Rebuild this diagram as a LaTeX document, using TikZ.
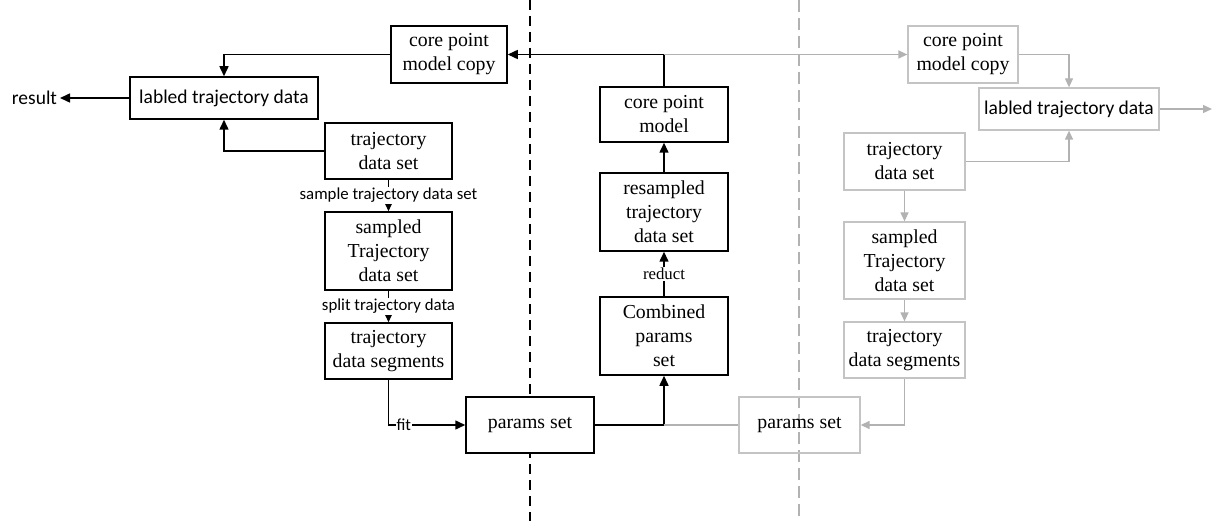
\documentclass[tikz,border=0pt]{standalone}
\usepackage{fontspec}
\setmainfont{Liberation Serif}
\newfontfamily\calfont{Carlito}
\usetikzlibrary{arrows.meta}
\definecolor{lgray}{HTML}{B2B2B2}
\definecolor{bgray}{HTML}{C4C4C4}

\begin{document}
\begin{tikzpicture}[x=1pt, y=-1pt,
        box/.style = {draw, line width=1.5pt, fill=white, align=center, inner sep=0pt,
                      font=\fontsize{19.8}{24}\selectfont},
        gbox/.style = {draw=bgray, line width=1.3pt, align=center, inner sep=0pt,
                       font=\fontsize{19.8}{24}\selectfont},
        arr/.style = {line width=1.5pt, -{Triangle[length=10pt,width=9pt]}},
        garr/.style = {draw=lgray, line width=1.3pt, -{Triangle[length=9pt,width=8pt,fill=lgray]}},
        lab/.style = {fill=white, inner sep=1pt, font=\calfont\fontsize{16.8}{19}\selectfont}]
        \useasboundingbox (0,0) rectangle (1228,521);

        % separations
        \draw[line width=1.6pt, dash pattern=on 10pt off 6pt] (530,0) -- (530,521);
        \draw[lgray, line width=1.3pt, dash pattern=on 12pt off 6pt] (799,0) -- (799,521);

        % partie gauche
        \node[box, minimum width=116pt, minimum height=57pt] (cpmcL) at (449,54.5) {core point\\model copy};
        \node[box, minimum width=188pt, minimum height=42pt, font=\calfont\fontsize{19.5}{24}\selectfont] (labL) at (224,98) {labled trajectory data};
        \node[font=\calfont\fontsize{19.5}{24}\selectfont, anchor=east, inner sep=0pt, outer sep=3pt] (res) at (60,98) {result};
        \node[box, minimum width=127pt, minimum height=56pt] (tdsL) at (388.5,151) {trajectory\\data set};
        \node[box, minimum width=127pt, minimum height=78pt] (sampL) at (388.5,251) {sampled\\Trajectory\\data set};
        \node[box, minimum width=127pt, minimum height=56pt] (segL) at (388.5,351) {trajectory\\data segments};
        \node[box, minimum width=128pt, minimum height=56pt] (parL) at (530,425) {params set};

        % partie centrale
        \node[box, minimum width=128pt, minimum height=55pt] (cpm) at (664,114.5) {core point\\model};
        \node[box, minimum width=128pt, minimum height=78pt] (resamp) at (664,212) {resampled\\trajectory\\data set};
        \node[box, minimum width=128pt, minimum height=78pt] (comb) at (664,336) {Combined\\params\\set};

        % partie droite (grise)
        \node[gbox, minimum width=110pt, minimum height=57pt] (cpmcR) at (963,54.5) {core point\\model copy};
        \node[gbox, minimum width=180pt, minimum height=42pt, font=\calfont\fontsize{19.5}{24}\selectfont] (labR) at (1069,109) {labled trajectory data};
        \node[gbox, minimum width=121pt, minimum height=57pt] (tdsR) at (904.5,161.5) {trajectory\\data set};
        \node[gbox, minimum width=121pt, minimum height=77pt] (sampR) at (904.5,260.5) {sampled\\Trajectory\\data set};
        \node[gbox, minimum width=121pt, minimum height=56pt] (segR) at (904.5,350) {trajectory\\data segments};
        \node[gbox, minimum width=121pt, minimum height=56pt] (parR) at (799.5,425) {params set};
        \coordinate (out) at (1212,109);
        \coordinate (top) at (cpm.north |- cpmcL.east);
        \coordinate (bot) at (comb.south |- parL.east);

        % liens gauche
        \draw[arr] (cpmcL.west) -| (labL.north);
        \draw[arr] (tdsL.west) -| (labL.south);
        \draw[arr] (labL.west) -- (res.east);
        \draw[arr] (tdsL) -- node[lab] {sample trajectory data set} (sampL);
        \draw[arr] (sampL) -- node[lab] {split trajectory data} (segL);
        \draw[arr] (segL.south) |- node[lab, pos=0.6] {fit} (parL.west);

        % liens centre
        \draw[arr] (parL.east) -| (comb.south);
        \draw[arr] (comb) -- node[lab, font=\fontsize{16.8}{19}\selectfont] {reduct} (resamp);
        \draw[arr] (resamp) -- (cpm);
        \draw[arr] (cpm.north) |- (cpmcL.east);

        % liens droite
        \draw[garr] (top) -- (cpmcR.west);
        \draw[lgray, line width=1.3pt] (bot) -- (parR.west);
        \draw[garr] (cpmcR.east) -| (labR.north);
        \draw[garr] (tdsR.east) -| (labR.south);
        \draw[garr] (labR.east) -- (out);
        \draw[garr] (tdsR) -- (sampR);
        \draw[garr] (sampR) -- (segR);
        \draw[garr] (segR.south) |- (parR.east);
    \end{tikzpicture}
\end{document}
